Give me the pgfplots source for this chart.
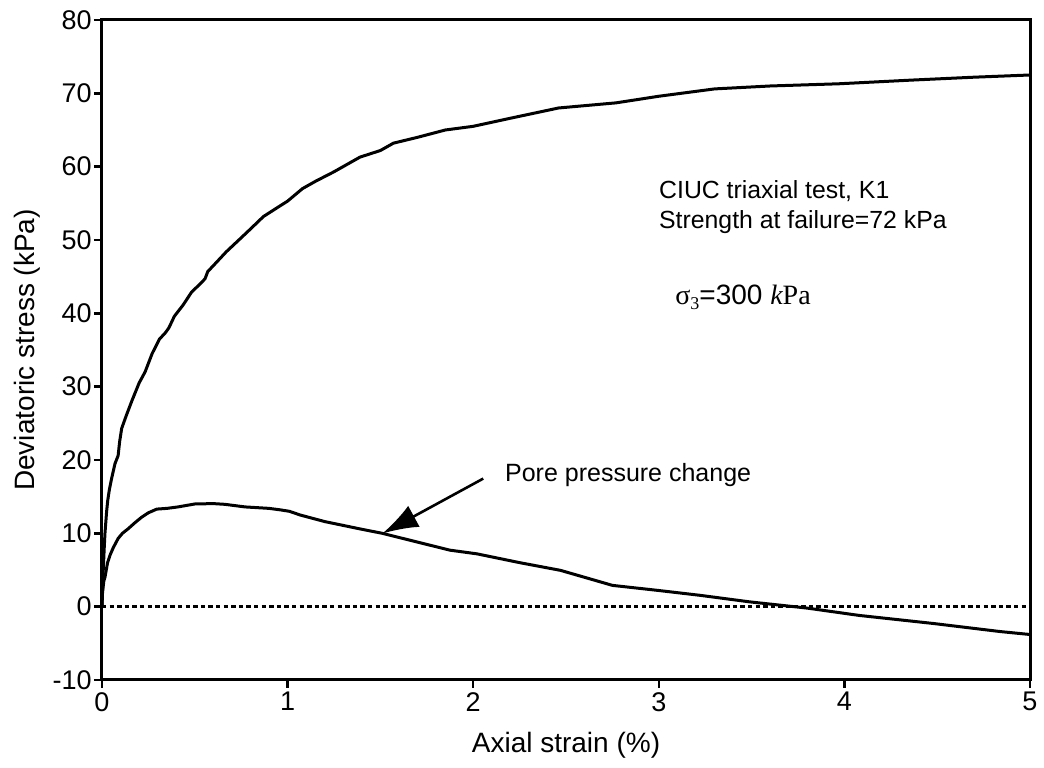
\documentclass[border=0pt]{standalone}
\usepackage{fontspec}
\setmainfont{Liberation Sans}
\newfontfamily\seriffont{Liberation Serif}
\usepackage{pgfplots}
\pgfplotsset{compat=1.18}
\usetikzlibrary{arrows.meta}

\pgfplotstableread{
x y
0 0
0.005 4
0.012 8
0.016 10
0.025 13
0.031 14.5
0.04 16
0.052 17.5
0.07 19.5
0.087 20.6
0.095 22.5
0.106 24.3
0.13 26
0.16 28
0.2 30.5
0.232 32
0.27 34.5
0.31 36.5
0.34 37.3
0.36 38
0.39 39.6
0.436 41.1
0.483 42.9
0.52 43.8
0.555 44.7
0.57 45.7
0.6 46.5
0.67 48.4
0.75 50.3
0.8 51.5
0.87 53.2
0.95 54.5
1.0 55.3
1.08 57.0
1.15 58.0
1.25 59.3
1.39 61.3
1.5 62.2
1.57 63.2
1.7 64.0
1.85 65.0
2.0 65.5
2.2 66.6
2.46 68.0
2.77 68.7
3.0 69.6
3.3 70.6
3.6 71.0
3.97 71.3
4.36 71.8
4.7 72.2
5.0 72.5
}\stresstable

\pgfplotstableread{
x y
0 0
0.003 2
0.01 3.5
0.016 4
0.03 6
0.043 7
0.06 8
0.087 9.3
0.11 10
0.14 10.6
0.18 11.5
0.214 12.2
0.25 12.8
0.295 13.3
0.35 13.4
0.41 13.6
0.5 14.0
0.6 14.05
0.663 13.95
0.77 13.6
0.9 13.4
0.96 13.2
1.01 13.0
1.067 12.5
1.2 11.6
1.39 10.6
1.51 10.0
1.7 8.8
1.875 7.7
2.02 7.2
2.25 6.0
2.47 4.95
2.6 4.0
2.75 2.9
3.0 2.2
3.22 1.55
3.49 0.65
3.80 -0.2
4.08 -1.2
4.48 -2.3
4.84 -3.4
5.0 -3.8
}\poretable

\begin{document}
\begin{tikzpicture}
\begin{axis}[
  scale only axis,
  width=464pt, height=330pt,
  xmin=0, xmax=5, ymin=-10, ymax=80,
  xtick={0,1,2,3,4,5},
  xticklabels={0,1,2,3,4,5},
  ytick={-10,0,10,20,30,40,50,60,70,80},
  yticklabels={-10,0,10,20,30,40,50,60,70,80},
  tick align=outside,
  xtick pos=bottom, ytick pos=left,
  major tick length=4pt,
  tick style={line width=1.2pt, black},
  axis line style={line width=1.5pt},
  ticklabel style={font=\fontsize{13.5}{15}\selectfont},
  xticklabel style={inner sep=2pt},
  yticklabel style={inner sep=1pt},
  xlabel={Axial strain (\%)},
  ylabel={Deviatoric stress (kPa)},
  label style={font=\fontsize{14}{16}\selectfont},
  xlabel style={at={(axis description cs:0.5,-0.1106)}, anchor=base},
  ylabel style={at={(axis description cs:-0.0722,0.5)}, anchor=base, rotate=0},
  clip=true,
]
\addplot[black, line width=1.5pt] table[x=x,y=y] {\stresstable};
\addplot[black, line width=1.5pt] table[x=x,y=y] {\poretable};
\addplot[black, line width=1.3pt, dash pattern=on 2.2pt off 1.6pt] coordinates {(0,0) (5,0)};

\draw[black, line width=1.3pt, -{Latex[length=18pt, width=12pt]}] (axis cs:2.054,17.46) -- (axis cs:1.51,9.96);

\node[anchor=base west, inner sep=0pt, font=\fontsize{12.4}{14}\selectfont] at (axis cs:3.0,55.7) {CIUC triaxial test, K1};
\node[anchor=base west, inner sep=0pt, font=\fontsize{12.4}{14}\selectfont] at (axis cs:3.0,51.6) {Strength at failure=72 kPa};
\node[anchor=base west, inner sep=0pt, font=\fontsize{14}{16}\selectfont] at (axis cs:3.087,41.2) {{\seriffont σ}\raisebox{-0.35ex}{\fontsize{9}{10}\selectfont\seriffont 3}=300 {\seriffont\itshape k}{\seriffont Pa}};
\node[anchor=west, inner sep=0pt, font=\fontsize{12.5}{14}\selectfont] at (axis cs:2.17,17.9) {Pore pressure change};

\coordinate (ll) at (rel axis cs:0,0);
\coordinate (ur) at (rel axis cs:1,1);
\end{axis}
\pgfresetboundingbox
\path[use as bounding box] ([shift={(-51pt,-44pt)}]ll) rectangle ([shift={(7pt,10pt)}]ur);
\end{tikzpicture}
\end{document}
